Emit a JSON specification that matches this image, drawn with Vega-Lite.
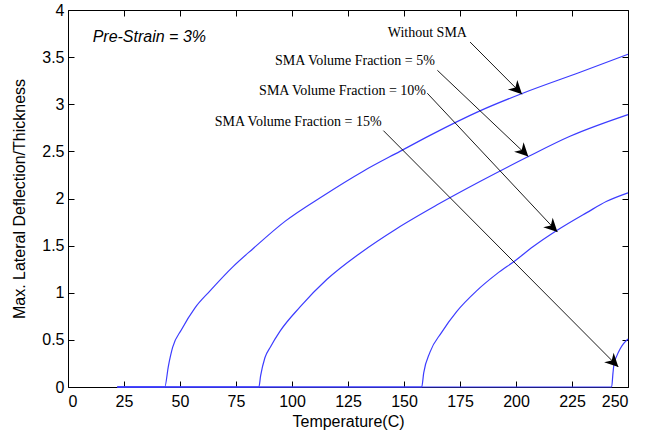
{
  "$schema": "https://vega.github.io/schema/vega-lite/v6.json",
  "width": 560,
  "height": 377,
  "autosize": "none",
  "padding": {"left": 68, "top": 10, "right": 25, "bottom": 51},
  "background": "white",
  "config": {
    "view": {"stroke": null},
    "axis": {
      "grid": false,
      "domainColor": "black",
      "domainWidth": 1,
      "tickColor": "black",
      "tickSize": -6,
      "tickWidth": 1,
      "labelFont": "Liberation Sans",
      "labelFontSize": 16,
      "labelColor": "black",
      "titleFont": "Liberation Sans",
      "titleFontSize": 16,
      "titleFontWeight": "normal",
      "titleColor": "black"
    }
  },
  "datasets": {
    "curves": [
      {"T": 22, "d": 0, "series": "Without SMA"},
      {"T": 43.2, "d": 0, "series": "Without SMA"},
      {"T": 44.8, "d": 0.22, "series": "Without SMA"},
      {"T": 46.7, "d": 0.42, "series": "Without SMA"},
      {"T": 50.7, "d": 0.61, "series": "Without SMA"},
      {"T": 56.7, "d": 0.84, "series": "Without SMA"},
      {"T": 63.4, "d": 1.02, "series": "Without SMA"},
      {"T": 73.8, "d": 1.28, "series": "Without SMA"},
      {"T": 82.7, "d": 1.47, "series": "Without SMA"},
      {"T": 97, "d": 1.76, "series": "Without SMA"},
      {"T": 114, "d": 2.03, "series": "Without SMA"},
      {"T": 131.8, "d": 2.29, "series": "Without SMA"},
      {"T": 148.2, "d": 2.5, "series": "Without SMA"},
      {"T": 161.6, "d": 2.67, "series": "Without SMA"},
      {"T": 183.9, "d": 2.93, "series": "Without SMA"},
      {"T": 203.3, "d": 3.12, "series": "Without SMA"},
      {"T": 228.6, "d": 3.34, "series": "Without SMA"},
      {"T": 250, "d": 3.53, "series": "Without SMA"},
      {"T": 22, "d": 0, "series": "5%"},
      {"T": 85.2, "d": 0, "series": "5%"},
      {"T": 86, "d": 0.12, "series": "5%"},
      {"T": 87.9, "d": 0.31, "series": "5%"},
      {"T": 90.5, "d": 0.43, "series": "5%"},
      {"T": 94.6, "d": 0.59, "series": "5%"},
      {"T": 103.6, "d": 0.85, "series": "5%"},
      {"T": 115.5, "d": 1.14, "series": "5%"},
      {"T": 130.4, "d": 1.42, "series": "5%"},
      {"T": 146.7, "d": 1.68, "series": "5%"},
      {"T": 164.6, "d": 1.93, "series": "5%"},
      {"T": 183.9, "d": 2.18, "series": "5%"},
      {"T": 205.5, "d": 2.445, "series": "5%"},
      {"T": 224.1, "d": 2.66, "series": "5%"},
      {"T": 250, "d": 2.89, "series": "5%"},
      {"T": 22, "d": 0, "series": "10%"},
      {"T": 157.9, "d": 0, "series": "10%"},
      {"T": 158.8, "d": 0.15, "series": "10%"},
      {"T": 161.6, "d": 0.37, "series": "10%"},
      {"T": 166.8, "d": 0.58, "series": "10%"},
      {"T": 173.5, "d": 0.8, "series": "10%"},
      {"T": 182.4, "d": 1.02, "series": "10%"},
      {"T": 191.4, "d": 1.2, "series": "10%"},
      {"T": 199.6, "d": 1.34, "series": "10%"},
      {"T": 207.7, "d": 1.49, "series": "10%"},
      {"T": 218.2, "d": 1.66, "series": "10%"},
      {"T": 231.6, "d": 1.85, "series": "10%"},
      {"T": 240.5, "d": 1.97, "series": "10%"},
      {"T": 250, "d": 2.06, "series": "10%"},
      {"T": 22, "d": 0, "series": "15%"},
      {"T": 242.7, "d": 0, "series": "15%"},
      {"T": 243.3, "d": 0.15, "series": "15%"},
      {"T": 243.8, "d": 0.25, "series": "15%"},
      {"T": 245, "d": 0.33, "series": "15%"},
      {"T": 246.4, "d": 0.4, "series": "15%"},
      {"T": 248, "d": 0.46, "series": "15%"},
      {"T": 250, "d": 0.51, "series": "15%"}
    ],
    "arrows": [
      {"x": 179.5, "y": 3.66, "x2": 202.7, "y2": 3.106},
      {"x": 164.9, "y": 3.36, "x2": 205.5, "y2": 2.445},
      {"x": 160.4, "y": 3.117, "x2": 218.5, "y2": 1.644},
      {"x": 140.8, "y": 2.72, "x2": 245.7, "y2": 0.212}
    ],
    "labels": [
      {"x": 178.1, "y": 3.756, "text": "Without SMA"},
      {"x": 163.8, "y": 3.459, "text": "SMA Volume Fraction = 5%"},
      {"x": 159.8, "y": 3.141, "text": "SMA Volume Fraction = 10%"},
      {"x": 140.0, "y": 2.816, "text": "SMA Volume Fraction = 15%"}
    ],
    "note": [
      {"x": 11, "y": 3.71, "text": "Pre-Strain = 3%"}
    ]
  },
  "resolve": {"axis": {"x": "independent", "y": "independent"}},
  "layer": [
    {
      "data": {"name": "curves"},
      "mark": {"type": "line", "color": "#3c3cff", "strokeWidth": 1.2, "interpolate": "monotone"},
      "encoding": {
        "x": {"field": "T", "type": "quantitative", "scale": {"domain": [0, 250], "nice": false},
              "axis": {"values": [0,25,50,75,100,125,150,175,200,225,250], "title": "Temperature(C)", "labelPadding": 12, "titlePadding": 4}},
        "y": {"field": "d", "type": "quantitative", "scale": {"domain": [0, 4], "nice": false},
              "axis": {"values": [0,0.5,1,1.5,2,2.5,3,3.5,4], "format": "~g", "title": "Max. Lateral Deflection/Thickness", "labelPadding": 10, "titlePadding": 14}},
        "detail": {"field": "series"}
      }
    },
    {
      "data": {"name": "arrows"},
      "mark": {"type": "rule", "color": "black", "strokeWidth": 0.9},
      "encoding": {
        "x": {"field": "x", "type": "quantitative", "axis": null},
        "y": {"field": "y", "type": "quantitative", "axis": null},
        "x2": {"field": "x2"},
        "y2": {"field": "y2"}
      }
    },
    {
      "data": {"name": "arrows"},
      "mark": {"type": "point", "shape": "M0,0L-1,2L0,1.4L1,2Z", "filled": true, "color": "black", "opacity": 1, "size": 180, "angle": 135},
      "encoding": {
        "x": {"field": "x2", "type": "quantitative", "axis": null},
        "y": {"field": "y2", "type": "quantitative", "axis": null}
      }
    },
    {
      "data": {"name": "labels"},
      "mark": {"type": "text", "font": "Liberation Serif", "fontSize": 14, "align": "right", "baseline": "middle", "color": "black"},
      "encoding": {
        "x": {"field": "x", "type": "quantitative", "axis": null},
        "y": {"field": "y", "type": "quantitative", "axis": null},
        "text": {"field": "text"}
      }
    },
    {
      "data": {"name": "note"},
      "mark": {"type": "text", "font": "Liberation Sans", "fontSize": 16, "fontStyle": "italic", "align": "left", "baseline": "middle", "color": "black"},
      "encoding": {
        "x": {"field": "x", "type": "quantitative", "axis": {"orient": "top", "values": [0,25,50,75,100,125,150,175,200,225,250], "labels": false, "title": null}},
        "y": {"field": "y", "type": "quantitative", "axis": {"orient": "right", "values": [0,0.5,1,1.5,2,2.5,3,3.5,4], "labels": false, "title": null}},
        "text": {"field": "text"}
      }
    }
  ]
}
